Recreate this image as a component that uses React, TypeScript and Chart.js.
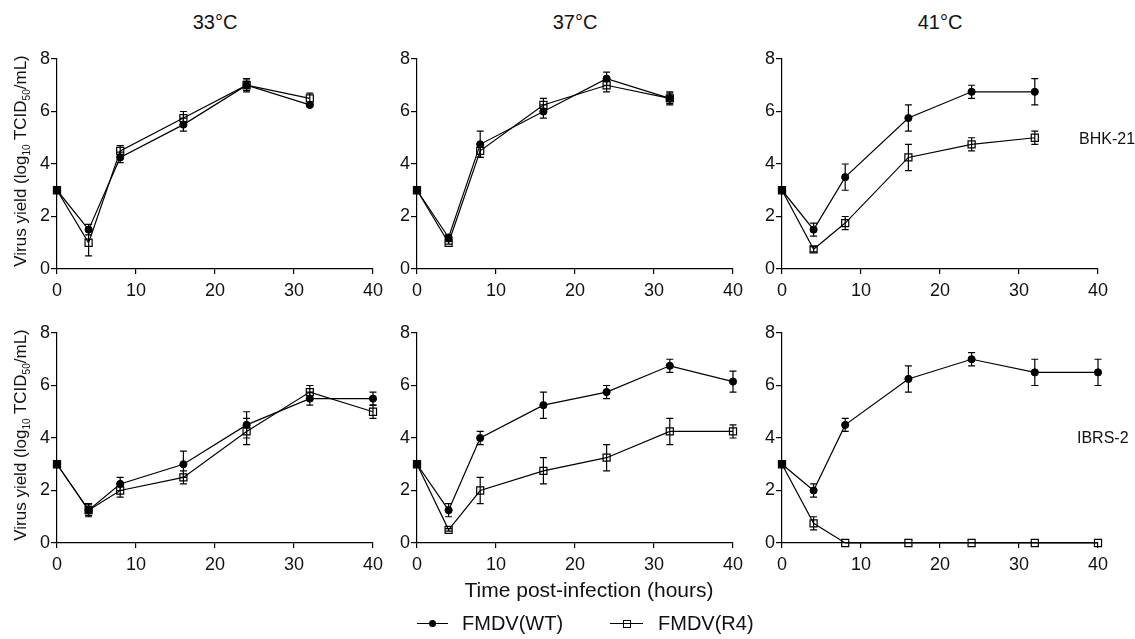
import React, { useEffect, useRef } from "react";
import { Chart, registerables } from "chart.js";

Chart.register(...registerables);

// ---------- data ----------
const timesBHK = [0, 4, 8, 16, 24, 32];
const timesIBRS = [0, 4, 8, 16, 24, 32, 40];
const xTickValues = [0, 10, 20, 30, 40];
const yTickValues = [0, 2, 4, 6, 8];
const temperatures = ["33°C", "37°C", "41°C"];
const cellLines = ["BHK-21", "IBRS-2"];
const seriesNames = ["FMDV(WT)", "FMDV(R4)"];

// BHK-21
const wt33BHK = [3, 1.5, 4.25, 5.5, 7.0, 6.25];
const wt33BHKErr = [0, 0.2, 0.2, 0.25, 0.2, 0.05];
const r433BHK = [3, 1.0, 4.5, 5.75, 7.0, 6.5];
const r433BHKErr = [0, 0.5, 0.2, 0.25, 0.25, 0.2];

const wt37BHK = [3, 1.2, 4.75, 6.0, 7.25, 6.5];
const wt37BHKErr = [0, 0.1, 0.5, 0.25, 0.25, 0.25];
const r437BHK = [3, 1.0, 4.5, 6.25, 7.0, 6.5];
const r437BHKErr = [0, 0.05, 0.25, 0.25, 0.25, 0.2];

const wt41BHK = [3, 1.5, 3.5, 5.75, 6.75, 6.75];
const wt41BHKErr = [0, 0.25, 0.5, 0.5, 0.25, 0.5];
const r441BHK = [3, 0.75, 1.75, 4.25, 4.75, 5.0];
const r441BHKErr = [0, 0.1, 0.25, 0.5, 0.25, 0.25];

// IBRS-2
const wt33IBRS = [3, 1.25, 2.25, 3.0, 4.5, 5.5, 5.5];
const wt33IBRSErr = [0, 0.2, 0.25, 0.5, 0.5, 0.25, 0.25];
const r433IBRS = [3, 1.25, 2.0, 2.5, 4.25, 5.75, 5.0];
const r433IBRSErr = [0, 0.25, 0.25, 0.25, 0.5, 0.25, 0.25];

const wt37IBRS = [3, 1.25, 4.0, 5.25, 5.75, 6.75, 6.15];
const wt37IBRSErr = [0, 0.25, 0.25, 0.5, 0.25, 0.25, 0.4];
const r437IBRS = [3, 0.5, 2.0, 2.75, 3.25, 4.25, 4.25];
const r437IBRSErr = [0, 0.05, 0.5, 0.5, 0.5, 0.5, 0.25];

const wt41IBRS = [3, 2.0, 4.5, 6.25, 7.0, 6.5, 6.5];
const wt41IBRSErr = [0, 0.25, 0.25, 0.5, 0.25, 0.5, 0.5];
const r441IBRS = [3, 0.75, 0, 0, 0, 0, 0];
const r441IBRSErr = [0, 0.25, 0, 0, 0, 0, 0];

// ---------- layout ----------
const FONT = '"Liberation Sans", Arial, Helvetica, sans-serif';
const INK = "#111";
const PLOT_W = 316;
const PLOT_H = 210;
const Y_W = 45;
const X_H = 34;
const PAD_T = 14;
const PAD_R = 22;
const colLeft = [57, 417, 782];
const rowTop = [59, 333];

const panels = [
  { row: 0, col: 0, times: timesBHK, wt: wt33BHK, wtErr: wt33BHKErr, r4: r433BHK, r4Err: r433BHKErr },
  { row: 0, col: 1, times: timesBHK, wt: wt37BHK, wtErr: wt37BHKErr, r4: r437BHK, r4Err: r437BHKErr },
  { row: 0, col: 2, times: timesBHK, wt: wt41BHK, wtErr: wt41BHKErr, r4: r441BHK, r4Err: r441BHKErr },
  { row: 1, col: 0, times: timesIBRS, wt: wt33IBRS, wtErr: wt33IBRSErr, r4: r433IBRS, r4Err: r433IBRSErr },
  { row: 1, col: 1, times: timesIBRS, wt: wt37IBRS, wtErr: wt37IBRSErr, r4: r437IBRS, r4Err: r437IBRSErr },
  { row: 1, col: 2, times: timesIBRS, wt: wt41IBRS, wtErr: wt41IBRSErr, r4: r441IBRS, r4Err: r441IBRSErr },
];

const errorBarPlugin = {
  id: "errorBars",
  beforeDatasetsDraw(chart: any) {
    const ctx = chart.ctx;
    const xs = chart.scales.x;
    const ys = chart.scales.y;
    ctx.save();
    ctx.strokeStyle = "#000";
    ctx.lineWidth = 1.2;
    chart.data.datasets.forEach((ds: any) => {
      const errs: number[] = ds.errors || [];
      ds.data.forEach((p: any, i: number) => {
        const e = errs[i] || 0;
        if (e <= 0) return;
        const px = xs.getPixelForValue(p.x);
        const yTop = ys.getPixelForValue(p.y + e);
        const yBot = ys.getPixelForValue(p.y - e);
        const cap = 3.5;
        ctx.beginPath();
        ctx.moveTo(px, yTop);
        ctx.lineTo(px, yBot);
        ctx.moveTo(px - cap, yTop);
        ctx.lineTo(px + cap, yTop);
        ctx.moveTo(px - cap, yBot);
        ctx.lineTo(px + cap, yBot);
        ctx.stroke();
      });
    });
    ctx.restore();
  },
};

function Panel(props: any) {
  const { row, col, times, wt, wtErr, r4, r4Err } = props;
  const ref = useRef<HTMLCanvasElement>(null);
  const W = Y_W + PLOT_W + PAD_R;
  const H = PAD_T + PLOT_H + X_H;
  const left = colLeft[col] - Y_W;
  const top = rowTop[row] - PAD_T;

  useEffect(() => {
    const chart = new Chart(ref.current as HTMLCanvasElement, {
      type: "line",
      data: {
        datasets: [
          {
            label: seriesNames[1],
            data: times.map((t: number, i: number) => ({ x: t, y: r4[i] })),
            errors: r4Err,
            borderColor: "#000",
            borderWidth: 1.2,
            pointStyle: "rect",
            pointRadius: 5,
            pointHoverRadius: 5,
            pointBackgroundColor: "rgba(0,0,0,0)",
            pointBorderColor: "#000",
            pointBorderWidth: 1.2,
            tension: 0,
            clip: false,
          } as any,
          {
            label: seriesNames[0],
            data: times.map((t: number, i: number) => ({ x: t, y: wt[i] })),
            errors: wtErr,
            borderColor: "#000",
            borderWidth: 1.2,
            pointStyle: "circle",
            pointRadius: 3.6,
            pointHoverRadius: 3.6,
            pointBackgroundColor: "#000",
            pointBorderColor: "#000",
            pointBorderWidth: 1,
            tension: 0,
            clip: false,
          } as any,
        ],
      },
      options: {
        responsive: false,
        maintainAspectRatio: false,
        animation: false,
        events: [],
        layout: { padding: { left: 0, right: PAD_R, top: PAD_T, bottom: 0 } },
        plugins: { legend: { display: false }, tooltip: { enabled: false } },
        scales: {
          x: {
            type: "linear",
            min: 0,
            max: 40,
            afterBuildTicks: (s: any) => {
              s.ticks = xTickValues.map((v) => ({ value: v }));
            },
            afterFit: (s: any) => {
              s.height = X_H;
            },
            grid: { display: true, drawOnChartArea: false, drawTicks: true, tickLength: 5, color: "#000", lineWidth: 1.2 },
            border: { display: true, color: "#000", width: 1.2 },
            ticks: { color: INK, font: { family: FONT, size: 18 }, padding: 6, maxRotation: 0, autoSkip: false },
          },
          y: {
            type: "linear",
            min: 0,
            max: 8,
            afterBuildTicks: (s: any) => {
              s.ticks = yTickValues.map((v) => ({ value: v }));
            },
            afterFit: (s: any) => {
              s.width = Y_W;
            },
            grid: { display: true, drawOnChartArea: false, drawTicks: true, tickLength: 6, color: "#000", lineWidth: 1.2 },
            border: { display: true, color: "#000", width: 1.2 },
            ticks: { color: INK, font: { family: FONT, size: 18 }, padding: 1, autoSkip: false },
          },
        },
      } as any,
      plugins: [errorBarPlugin],
    });
    return () => chart.destroy();
  }, []);

  return (
    <canvas
      ref={ref}
      width={W}
      height={H}
      style={{ position: "absolute", left, top, width: W, height: H }}
    />
  );
}

function YTitle({ cy }: { cy: number }) {
  return (
    <div
      style={{
        position: "absolute",
        left: 21 - 140,
        top: cy - 11,
        width: 280,
        height: 22,
        lineHeight: "22px",
        textAlign: "center",
        transform: "rotate(-90deg)",
        fontFamily: FONT,
        fontSize: 17,
        color: INK,
        whiteSpace: "nowrap",
      }}
    >
      Virus yield (log
      <span style={{ fontSize: 10, position: "relative", top: 4 }}>10</span> TCID
      <span style={{ fontSize: 10, position: "relative", top: 4 }}>50</span>/mL)
    </div>
  );
}

export default function App() {
  const text = (extra: any) => ({
    position: "absolute" as const,
    fontFamily: FONT,
    color: INK,
    whiteSpace: "nowrap" as const,
    ...extra,
  });
  return (
    <div
      style={{
        position: "absolute",
        left: 0,
        top: 0,
        width: 1135,
        height: 639,
        background: "#fff",
        overflow: "hidden",
      }}
    >
      {temperatures.map((t, i) => (
        <div
          key={t}
          style={text({
            left: colLeft[i] + PLOT_W / 2 - 100,
            width: 200,
            top: 10,
            fontSize: 20,
            lineHeight: "24px",
            textAlign: "center",
          })}
        >
          {t}
        </div>
      ))}
      {panels.map((p, i) => (
        <Panel key={i} {...p} />
      ))}
      <YTitle cy={161} />
      <YTitle cy={435} />
      <div style={text({ left: 1079, top: 130, fontSize: 16, lineHeight: "18px" })}>{cellLines[0]}</div>
      <div style={text({ left: 1077, top: 429, fontSize: 16, lineHeight: "18px" })}>{cellLines[1]}</div>
      <div
        style={text({
          left: 589 - 200,
          width: 400,
          top: 578,
          fontSize: 21,
          lineHeight: "24px",
          textAlign: "center",
        })}
      >
        Time post-infection (hours)
      </div>
      {/* legend */}
      <div style={{ position: "absolute", left: 417, top: 623, width: 31, height: 1.3, background: "#000" }} />
      <div
        style={{
          position: "absolute",
          left: 432.5 - 3.6,
          top: 623.6 - 3.6,
          width: 7.2,
          height: 7.2,
          borderRadius: "50%",
          background: "#000",
        }}
      />
      <div style={text({ left: 462, top: 611, fontSize: 20, lineHeight: "24px" })}>{seriesNames[0]}</div>
      <div style={{ position: "absolute", left: 610, top: 623, width: 33, height: 1.3, background: "#000" }} />
      <div
        style={{
          position: "absolute",
          left: 627 - 4,
          top: 623.6 - 4,
          width: 6,
          height: 6,
          border: "1.2px solid #000",
        }}
      />
      <div style={text({ left: 658, top: 611, fontSize: 20, lineHeight: "24px" })}>{seriesNames[1]}</div>
    </div>
  );
}
